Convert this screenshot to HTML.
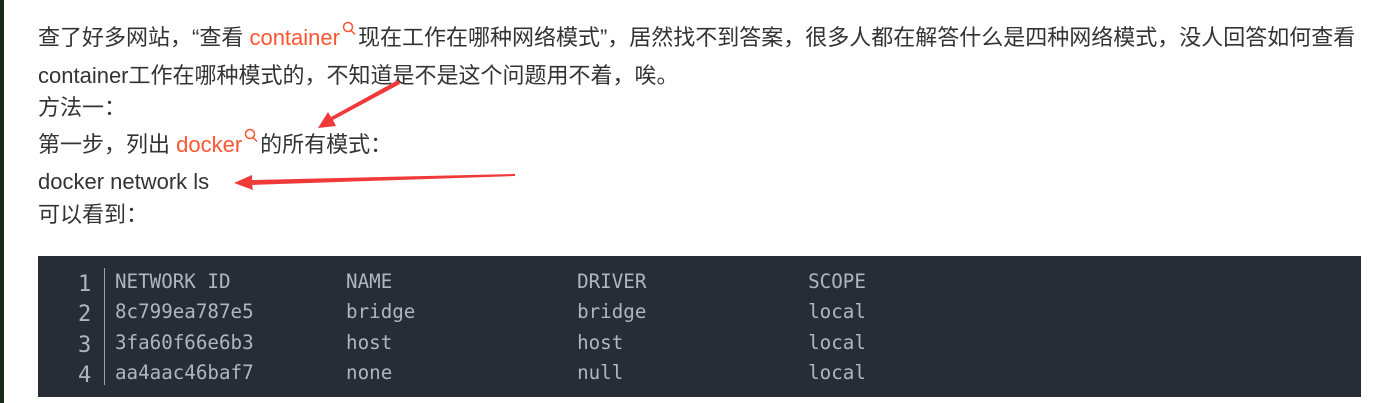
<!DOCTYPE html>
<html><head><meta charset="utf-8"><style>
body{margin:0;width:1381px;height:403px;background:#fff;position:relative;overflow:hidden;font-family:"Liberation Sans","Noto Sans CJK SC",sans-serif;color:#333;}
.l{position:absolute;left:38px;font-size:22px;white-space:nowrap;line-height:24px;height:24px;}
.r{color:#fc5531;}
.q{display:inline-block;width:18px;height:16px;position:relative;top:-8px;}
.code{position:absolute;left:38px;top:256px;width:1323px;height:141px;background:#282c34;}
.m{position:absolute;font-family:"DejaVu Sans Mono","Liberation Mono",monospace;font-size:19.2px;color:#b0b6c0;line-height:30.3px;white-space:pre;}
.sep{position:absolute;left:104px;top:268px;width:1px;height:117px;background:#9aa0a8;}
</style></head><body>
<div style="position:absolute;left:0;top:0;width:4px;height:403px;background:#1a2a1a"></div>
<div class="l" style="top:26px">查了好多网站，“查看 <span class="r">container</span><svg class="q" viewBox="0 0 18 16"><circle cx="8" cy="6" r="4.5" fill="none" stroke="#fc5531" stroke-width="1.5"/><line x1="11" y1="9.5" x2="15" y2="13.5" stroke="#fc5531" stroke-width="1.5"/></svg>现在工作在哪种网络模式”，居然找不到答案，很多人都在解答什么是四种网络模式，没人回答如何查看</div>
<div class="l" style="top:64px">container工作在哪种模式的，不知道是不是这个问题用不着，唉。</div>
<div class="l" style="top:96px">方法一：</div>
<div class="l" style="top:133px">第一步，列出 <span class="r">docker</span><svg class="q" viewBox="0 0 18 16"><circle cx="8" cy="6" r="4.5" fill="none" stroke="#fc5531" stroke-width="1.5"/><line x1="11" y1="9.5" x2="15" y2="13.5" stroke="#fc5531" stroke-width="1.5"/></svg>的所有模式：</div>
<div class="l" style="top:170px">docker network ls</div>
<div class="l" style="top:203px">可以看到：</div>
<div class="code"></div>
<div class="sep"></div>
<div class="m" style="left:78px;top:270px;font-size:22px">1
2
3
4</div>
<div class="m" style="left:115px;top:267px">NETWORK ID          NAME                DRIVER              SCOPE
8c799ea787e5        bridge              bridge              local
3fa60f66e6b3        host                host                local
aa4aac46baf7        none                null                local</div>
<svg width="1381" height="403" style="position:absolute;left:0;top:0">
<polygon points="398,80 400,84 333,120 336,126 318,128 328,112 331,117" fill="#f03a3a"/>
<polygon points="515,174 515,176 252,185 253,190 234,183 252,175 252,180" fill="#f03a3a"/>
</svg>
</body></html>
